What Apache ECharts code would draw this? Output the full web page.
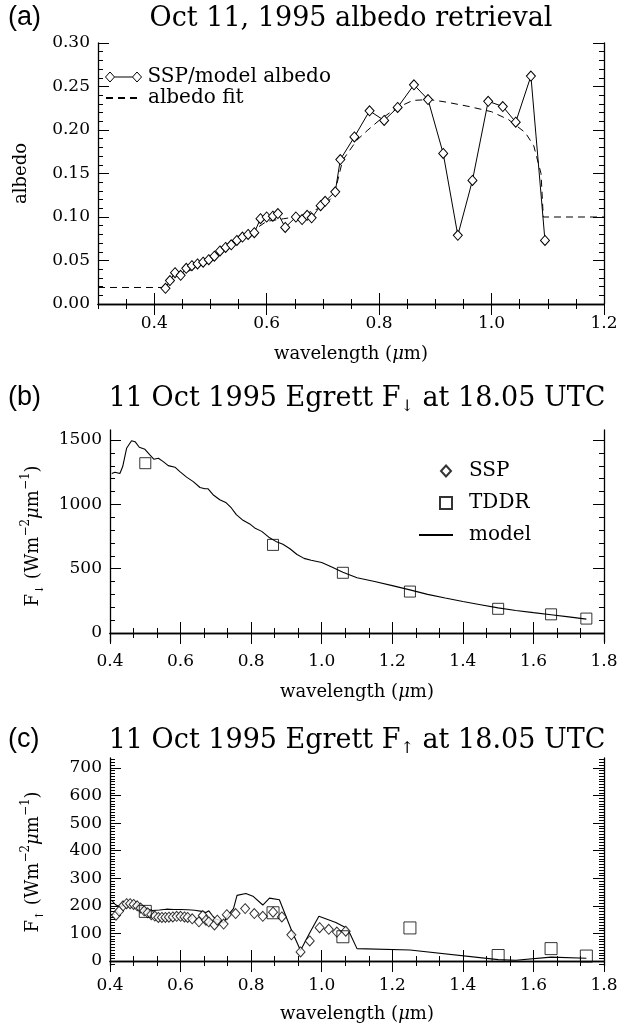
<!DOCTYPE html>
<html><head><meta charset="utf-8">
<script src="https://cdn.jsdelivr.net/npm/echarts@6/dist/echarts.min.js"></script>
<style>html,body{margin:0;padding:0;background:#fff}#c{width:621px;height:1028px}</style>
</head><body><div id="c"></div>
<script>
// ---------- Panel (a): albedo ----------
const albedoWl  = [0.420,0.428,0.437,0.447,0.457,0.467,0.477,0.487,0.497,0.507,0.517,0.527,0.537,0.547,0.557,0.567,0.578,0.589,0.600,0.611,0.620,0.633,0.652,0.663,0.672,0.680,0.696,0.704,0.722,0.731,0.756,0.783,0.809,0.833,0.862,0.887,0.914,0.940,0.966,0.994,1.020,1.043,1.070,1.095];
const albedoVal = [0.018,0.027,0.036,0.033,0.041,0.044,0.046,0.048,0.051,0.055,0.061,0.065,0.068,0.073,0.077,0.080,0.082,0.098,0.100,0.101,0.104,0.088,0.100,0.097,0.102,0.099,0.113,0.118,0.129,0.166,0.192,0.222,0.211,0.226,0.252,0.235,0.173,0.079,0.142,0.233,0.227,0.209,0.262,0.073];
const fitWl  = [0.30,0.415,0.42,0.45,0.50,0.55,0.60,0.63,0.66,0.70,0.72,0.735,0.76,0.78,0.80,0.83,0.86,0.89,0.92,0.96,1.00,1.03,1.06,1.075,1.088,1.092,1.20];
const fitVal = [0.019,0.019,0.018,0.034,0.051,0.073,0.095,0.098,0.101,0.112,0.125,0.165,0.188,0.200,0.211,0.225,0.234,0.235,0.232,0.227,0.221,0.212,0.197,0.182,0.150,0.100,0.100];

// ---------- Panel (b): downwelling flux ----------
const downModelWl  = [0.405,0.414,0.428,0.436,0.447,0.461,0.471,0.483,0.499,0.513,0.524,0.537,0.551,0.565,0.584,0.598,0.617,0.636,0.655,0.669,0.678,0.692,0.711,0.728,0.744,0.758,0.777,0.796,0.810,0.830,0.850,0.870,0.890,0.910,0.930,0.950,0.970,1.000,1.030,1.060,1.100,1.150,1.200,1.250,1.300,1.350,1.400,1.450,1.500,1.550,1.600,1.650,1.700,1.750];
const downModelVal = [1240,1250,1240,1294,1436,1495,1487,1444,1428,1384,1351,1358,1332,1301,1289,1255,1212,1177,1131,1121,1121,1075,1036,1015,972,920,876,848,817,790,745,712,690,655,610,580,565,548,512,472,430,400,368,335,300,272,245,220,195,175,158,142,125,108];
const tddrWl      = [0.500,0.862,1.060,1.250,1.500,1.650,1.750];
const downTddrVal = [1320,685,468,322,188,145,112];

// ---------- Panel (c): upwelling flux ----------
const upSspWl  = [0.417,0.426,0.437,0.447,0.457,0.467,0.477,0.487,0.497,0.507,0.517,0.527,0.537,0.547,0.557,0.567,0.578,0.589,0.600,0.611,0.620,0.633,0.652,0.663,0.672,0.680,0.696,0.704,0.722,0.731,0.756,0.783,0.809,0.833,0.862,0.887,0.914,0.940,0.966,0.994,1.020,1.043,1.068];
const upSspVal = [166,181,200,208,208,205,200,192,182,175,168,163,158,158,158,159,160,162,162,160,158,153,142,165,148,142,131,148,134,168,172,190,172,162,177,160,95,33,73,121,115,105,108];
const upModelWl  = [0.405,0.415,0.425,0.437,0.447,0.460,0.475,0.490,0.505,0.520,0.540,0.560,0.580,0.600,0.620,0.640,0.660,0.672,0.680,0.690,0.700,0.712,0.722,0.733,0.750,0.760,0.785,0.805,0.833,0.852,0.880,0.915,0.940,0.965,0.992,1.040,1.070,1.080,1.100,1.250,1.500,1.550,1.650,1.750];
const upModelVal = [220,205,198,200,210,210,205,195,188,183,185,188,187,187,186,184,180,176,182,165,152,148,138,165,190,238,245,235,203,228,222,110,38,100,162,140,120,100,45,40,5,3,14,10];
const upTddrVal = [180,175,88,120,20,45,18];

// ---------- tick labels ----------
const aXTicks = [0.4,0.6,0.8,1.0,1.2];
const aYTicks = [0.00,0.05,0.10,0.15,0.20,0.25,0.30];
const bcXTicks = [0.4,0.6,0.8,1.0,1.2,1.4,1.6,1.8];
const bYTicks = [0,500,1000,1500];
const cYTicks = [0,100,200,300,400,500,600,700];

const SERIF = '"DejaVu Serif","Liberation Serif",serif';
const SANS = '"Liberation Sans",Arial,sans-serif';
const zip = (a, b) => a.map((v, i) => [v, b[i]]);

function minorsOf(min, max, step, majors) {
  const out = [];
  const k0 = Math.ceil(min / step - 1e-9), k1 = Math.floor(max / step + 1e-9);
  for (let k = k0; k <= k1; k++) {
    const v = +(k * step).toFixed(6);
    if (!majors.some(m => Math.abs(m - v) < 1e-9)) out.push(v);
  }
  return out;
}
const richSet = (fs) => ({
  mu:  {fontFamily: SERIF, fontSize: fs, fontStyle: 'italic', color: '#000'},
  sup: {fontFamily: SERIF, fontSize: Math.round(fs * 0.65), verticalAlign: 'top', lineHeight: 12, color: '#000'},
  sub: {fontFamily: SERIF, fontSize: Math.round(fs * 0.6), verticalAlign: 'bottom', lineHeight: 11, color: '#000'}
});
function axisSet(isX, g, min, max, majors, minorStep, fmt, name, nameGap) {
  const minors = minorsOf(min, max, minorStep, majors);
  const base = {type: 'value', gridIndex: g, min: min, max: max, splitLine: {show: false}, silent: true};
  const line = {show: true, lineStyle: {color: '#000', width: 1.3}};
  const tick = (vals, len) => ({show: true, inside: true, length: len, customValues: vals, lineStyle: {color: '#000', width: 1}});
  const p1 = isX ? 'bottom' : 'left', p2 = isX ? 'top' : 'right';
  return [
    Object.assign({}, base, {position: p1, axisLine: line, axisTick: tick(majors, 11),
      axisLabel: {show: true, customValues: majors, formatter: fmt, color: '#000', fontFamily: SERIF, fontSize: 17, margin: isX ? 11 : 8},
      name: name, nameLocation: 'middle', nameGap: nameGap,
      nameTextStyle: {fontFamily: SERIF, fontSize: 18, color: '#000', lineHeight: 26, rich: richSet(18)}}),
    Object.assign({}, base, {position: p1, axisLine: {show: false}, axisTick: tick(minors, 5), axisLabel: {show: false}}),
    Object.assign({}, base, {position: p2, axisLine: line, axisTick: tick(majors, 11), axisLabel: {show: false}}),
    Object.assign({}, base, {position: p2, axisLine: {show: false}, axisTick: tick(minors, 5), axisLabel: {show: false}})
  ];
}
const f1 = v => v.toFixed(1), f2 = v => v.toFixed(2), f0 = v => String(v);
const wlName = 'wavelength ({mu|μ}m)';

const xAxes = [].concat(
  axisSet(true, 0, 0.3, 1.2, aXTicks, 0.05, f1, wlName, 37),
  axisSet(true, 1, 0.4, 1.8, bcXTicks, 0.2 / 3, f1, wlName, 37),
  axisSet(true, 2, 0.4, 1.8, bcXTicks, 0.2 / 3, f1, wlName, 35)
);
const yAxes = [].concat(
  axisSet(false, 0, 0, 0.30, aYTicks, 0.01, f2, 'albedo', 64),
  axisSet(false, 1, -70, 1578, bYTicks, 100, f0, 'F{sub|↓} (Wm{sup|−2}{mu|μ}m{sup|−1})', 64),
  axisSet(false, 2, -18, 736, cYTicks, 10, f0, 'F{sub|↑} (Wm{sup|−2}{mu|μ}m{sup|−1})', 64)
);

const diamond = {color: '#fff', borderColor: '#000', borderWidth: 1};
const square = {color: 'rgba(255,255,255,0)', borderColor: '#000', borderWidth: 1};
const clear = {color: 'rgba(0,0,0,0)', borderColor: 'rgba(0,0,0,0)', borderWidth: 0};
const common = {animation: false, silent: true, emphasis: {disabled: true}};

const titleStyle = {fontFamily: SERIF, fontSize: 27, fontWeight: 'normal', color: '#000', lineHeight: 32, rich: richSet(27)};
const panelStyle = {fontFamily: SANS, fontSize: 27, fontWeight: 'normal', color: '#000'};
const mkTitle = (text, left, top, style, align) => ({text: text, left: left, top: top, padding: 0,
  textAlign: align, textVerticalAlign: 'middle', textStyle: style});
const legText = (pad) => ({fontFamily: SERIF, fontSize: 20, color: '#000', padding: [0, 0, 0, pad]});

const option = {
  backgroundColor: '#fff',
  animation: false,
  title: [
    mkTitle('(a)', 8, 18, panelStyle, 'left'),
    mkTitle('Oct 11, 1995 albedo retrieval', 351, 19, titleStyle, 'center'),
    mkTitle('(b)', 8, 398, panelStyle, 'left'),
    mkTitle('11 Oct 1995 Egrett F{sub|↓} at 18.05 UTC', 357, 399, titleStyle, 'center'),
    mkTitle('(c)', 8, 740, panelStyle, 'left'),
    mkTitle('11 Oct 1995 Egrett F{sub|↑} at 18.05 UTC', 357, 741, titleStyle, 'center')
  ],
  grid: [
    {left: 98, width: 506, top: 43, height: 261},
    {left: 110, width: 494, top: 430, height: 212},
    {left: 110, width: 494, top: 758, height: 209}
  ],
  xAxis: xAxes,
  yAxis: yAxes,
  legend: [
    {data: [{name: 'SSP/model albedo', icon: 'path://M0,5L4.5,0L9,5L4.5,10Z M27,5L31.5,0L36,5L31.5,10Z M9,5L27,5',
             itemStyle: {color: '#fff', borderColor: '#000', borderWidth: 1}}],
     left: 100, top: 62, itemWidth: 36, itemHeight: 10, selectedMode: false, textStyle: legText(1)},
    {data: [{name: 'albedo fit', itemStyle: {opacity: 0}}],
     left: 100, top: 83, itemWidth: 36, itemHeight: 10, selectedMode: false, textStyle: legText(1)},
    {data: ['SSP'], left: 435, top: 456, itemWidth: 10, itemHeight: 11, selectedMode: false, textStyle: legText(13)},
    {data: ['TDDR'], left: 434, top: 488, itemWidth: 12, itemHeight: 12, selectedMode: false, textStyle: legText(12)},
    {data: [{name: 'model', itemStyle: {opacity: 0}}], left: 413, top: 520, itemWidth: 34, itemHeight: 10,
     selectedMode: false, textStyle: legText(11)}
  ],
  series: [
    Object.assign({type: 'line', name: 'albedo fit', xAxisIndex: 0, yAxisIndex: 0, data: zip(fitWl, fitVal),
      symbol: 'none', z: 2, itemStyle: clear, lineStyle: {color: '#000', width: 1, type: [7, 5]}}, common),
    Object.assign({type: 'line', name: 'SSP/model albedo', xAxisIndex: 0, yAxisIndex: 0, data: zip(albedoWl, albedoVal),
      symbol: 'diamond', symbolSize: [9, 10], showSymbol: true, z: 3, itemStyle: diamond, lineStyle: {color: '#000', width: 1}}, common),

    Object.assign({type: 'line', name: 'model', xAxisIndex: 4, yAxisIndex: 4, data: zip(downModelWl, downModelVal),
      symbol: 'none', z: 2, itemStyle: clear, lineStyle: {color: '#000', width: 1.1}}, common),
    Object.assign({type: 'scatter', name: 'SSP', xAxisIndex: 4, yAxisIndex: 4, data: [],
      symbol: 'diamond', symbolSize: [9, 10], z: 3, itemStyle: diamond}, common),
    Object.assign({type: 'scatter', name: 'TDDR', xAxisIndex: 4, yAxisIndex: 4, data: zip(tddrWl, downTddrVal),
      symbol: 'rect', symbolSize: 11, z: 3, itemStyle: square}, common),

    Object.assign({type: 'line', name: 'model', xAxisIndex: 8, yAxisIndex: 8, data: zip(upModelWl, upModelVal),
      symbol: 'none', z: 2, itemStyle: clear, lineStyle: {color: '#000', width: 1.1}}, common),
    Object.assign({type: 'scatter', name: 'SSP', xAxisIndex: 8, yAxisIndex: 8, data: zip(upSspWl, upSspVal),
      symbol: 'diamond', symbolSize: [9, 10], z: 3, itemStyle: diamond}, common),
    Object.assign({type: 'scatter', name: 'TDDR', xAxisIndex: 8, yAxisIndex: 8, data: zip(tddrWl, upTddrVal),
      symbol: 'rect', symbolSize: 12, z: 4, itemStyle: square}, common)
  ]
};
const chart = echarts.init(document.getElementById('c'), null, {renderer: 'canvas'});
chart.setOption(option);
</script></body></html>
